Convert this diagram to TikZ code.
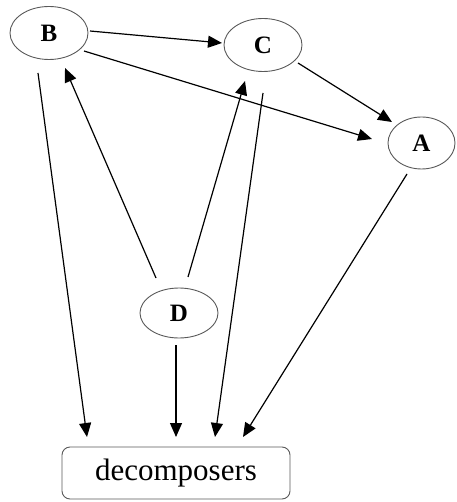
\documentclass[tikz,border=0pt]{standalone}
\usepackage{fontspec}
\setmainfont{Liberation Serif}
\usetikzlibrary{arrows.meta,shapes.geometric}
\begin{document}
\begin{tikzpicture}[x=1pt,y=-1pt,
  species/.style={ellipse,draw=black!65,line width=0.9pt,inner sep=0pt,
    minimum width=78pt,minimum height=53pt,font=\fontsize{25}{25}\selectfont\bfseries},
  sink/.style={rectangle,rounded corners=8pt,draw=black!65,line width=0.9pt,
    minimum width=228pt,minimum height=52pt,inner sep=0pt,font=\fontsize{31}{31}\selectfont},
  arr/.style={-{Triangle[length=14pt,width=12pt]},line width=1.2pt,black}]
\useasboundingbox (0,0) rectangle (456,502);
\node[species] (B) at (49,33) {B};
\node[species] (C) at (263,45) {C};
\node[species,minimum width=67pt,minimum height=52pt] (A) at (421.5,143) {A};
\node[species,minimum height=50pt] (D) at (179,313) {D};
\node[sink] (dec) at (176,473) {decomposers};
\draw[arr] ([shift={(41,-2)}]B.center) -- ([shift={(-41,-2)}]C.center);
\draw[arr] ([shift={(35,18)}]B.center) -- ([shift={(-49.5,-4)}]A.center);
\draw[arr] ([shift={(35,18)}]C.center) -- ([shift={(-29.5,-21)}]A.center);
\draw[arr] ([shift={(-11,40)}]B.center) -- ([shift={(-89,-36)}]dec.center);
\draw[arr] ([shift={(-23,-35)}]D.center) -- ([shift={(16,35)}]B.center);
\draw[arr] ([shift={(9,-36)}]D.center) -- ([shift={(-18,36)}]C.center);
\draw[arr] ([shift={(0,48)}]C.center) -- ([shift={(39,-36)}]dec.center);
\draw[arr] ([shift={(-3,32)}]D.center) -- ([shift={(0,-36)}]dec.center);
\draw[arr] ([shift={(-14.5,31)}]A.center) -- ([shift={(67,-36)}]dec.center);
\end{tikzpicture}
\end{document}
